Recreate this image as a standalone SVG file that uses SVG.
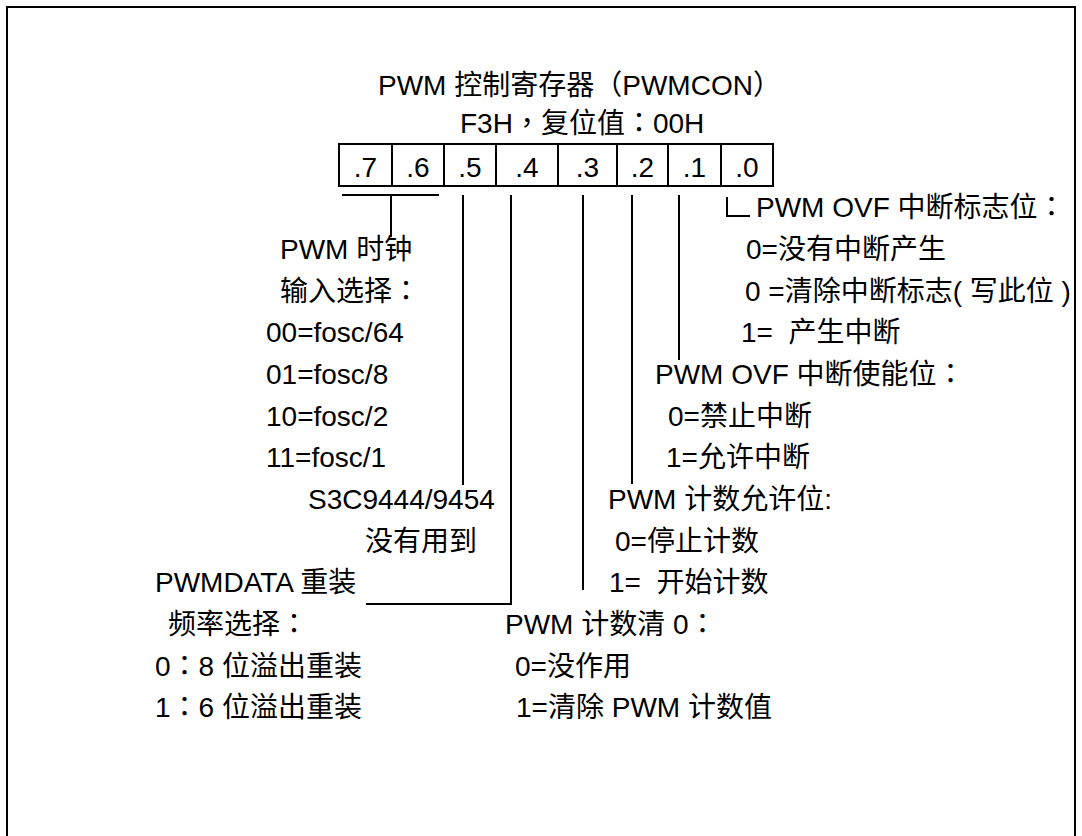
<svg xmlns="http://www.w3.org/2000/svg" width="1082" height="836" viewBox="0 0 1082 836">
<style>
text{font-family:"Liberation Sans","Noto Sans CJK SC",sans-serif;font-size:28px;fill:#000}
.p{font-family:"Noto Sans CJK TC",sans-serif}
.c{text-anchor:middle}
.ln{fill:none;stroke:#000;stroke-width:2}
</style>
<rect x="0" y="0" width="1082" height="836" fill="#fff"/>
<rect id="frame" x="7" y="7" width="1068" height="840" fill="none" stroke="#000" stroke-width="2"/>
<g id="title">
<text x="378" y="95">PWM 控制寄存器<tspan class="p">（</tspan>PWMCON<tspan class="p">）</tspan></text>
<text x="460" y="133">F3H<tspan class="p">，</tspan>复位值<tspan class="p">：</tspan>00H</text>
</g>
<g id="register">
<rect x="339" y="144" width="434" height="42" fill="none" stroke="#000" stroke-width="2"/>
<path class="ln" d="M392,144V186M444,144V186M496,144V186M558,144V186M617,144V186M668,144V186M721,144V186"/>
<text class="c" x="365.5" y="177">.7</text>
<text class="c" x="418" y="177">.6</text>
<text class="c" x="470" y="177">.5</text>
<text class="c" x="527" y="177">.4</text>
<text class="c" x="587.5" y="177">.3</text>
<text class="c" x="642.5" y="177">.2</text>
<text class="c" x="694.5" y="177">.1</text>
<text class="c" x="747" y="177">.0</text>
</g>
<g id="connectors">
<path class="ln" d="M342,195H439M391,195V237"/>
<path class="ln" d="M463,195V485"/>
<path class="ln" d="M511,195V604H366"/>
<path class="ln" d="M583,195V590"/>
<path class="ln" d="M632,195V484"/>
<path class="ln" d="M679,195V360"/>
<path class="ln" d="M727,197V216H750"/>
</g>
<g id="bit76">
<text x="280" y="259">PWM 时钟</text>
<text x="280" y="301">输入选择<tspan class="p">：</tspan></text>
<text x="266" y="342">00=fosc/64</text>
<text x="266" y="384">01=fosc/8</text>
<text x="266" y="426">10=fosc/2</text>
<text x="266" y="467">11=fosc/1</text>
</g>
<g id="bit5">
<text x="308" y="509">S3C9444/9454</text>
<text x="365" y="551">没有用到</text>
</g>
<g id="bit4">
<text x="155" y="592">PWMDATA 重装</text>
<text x="168" y="634">频率选择<tspan class="p">：</tspan></text>
<text x="155" y="676">0<tspan class="p">：</tspan>8 位溢出重装</text>
<text x="155" y="717">1<tspan class="p">：</tspan>6 位溢出重装</text>
</g>
<g id="bit3">
<text x="505" y="634">PWM 计数清 0<tspan class="p">：</tspan></text>
<text x="515" y="676">0=没作用</text>
<text x="516" y="717">1=清除 PWM 计数值</text>
</g>
<g id="bit2">
<text x="608" y="509">PWM 计数允许位:</text>
<text x="615" y="551">0=停止计数</text>
<text x="609" y="592">1=&#160; 开始计数</text>
</g>
<g id="bit1">
<text x="655" y="384">PWM OVF 中断使能位<tspan class="p">：</tspan></text>
<text x="668" y="426">0=禁止中断</text>
<text x="666" y="467">1=允许中断</text>
</g>
<g id="bit0">
<text x="756" y="217">PWM OVF 中断标志位<tspan class="p">：</tspan></text>
<text x="746" y="259">0=没有中断产生</text>
<text x="745" y="301">0 =清除中断标志( 写此位 )</text>
<text x="741" y="342">1=&#160; 产生中断</text>
</g>
</svg>
